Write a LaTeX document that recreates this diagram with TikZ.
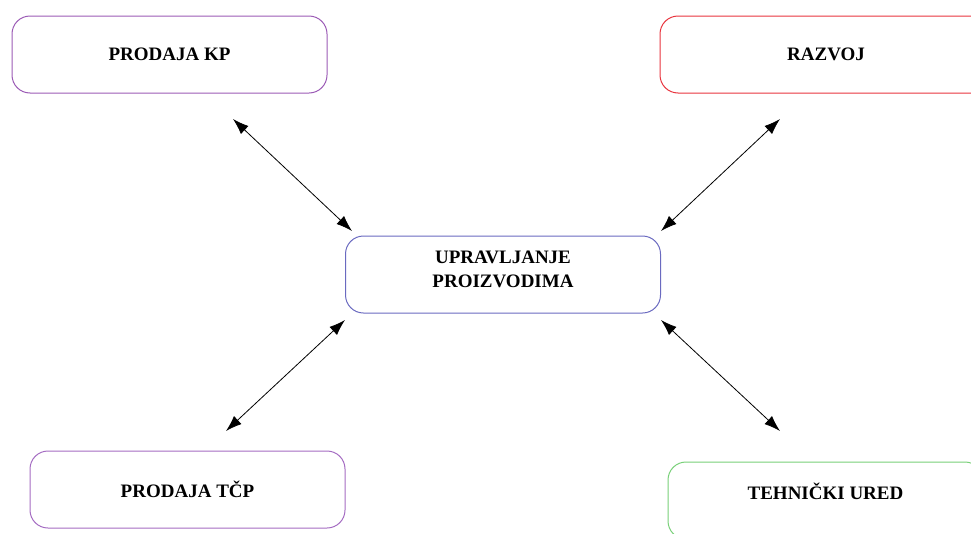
\documentclass[tikz,border=0pt]{standalone}
\usepackage{fontspec}
\setmainfont{Liberation Serif}
\usetikzlibrary{arrows.meta}
\definecolor{cKP}{HTML}{9B5BB5}
\definecolor{cRaz}{HTML}{E8343E}
\definecolor{cUp}{HTML}{6A6AC0}
\definecolor{cTcp}{HTML}{A46CC2}
\definecolor{cTeh}{HTML}{78D078}
\begin{document}
\begin{tikzpicture}[x=1pt,y=-1pt,
  box/.style={draw, rounded corners=18pt, minimum width=315pt, minimum height=77pt,
    font=\fontsize{19}{24}\selectfont\bfseries, align=center, line width=1pt, inner sep=0pt},
  link/.style={{Latex[length=16pt,width=11pt]}-{Latex[length=16pt,width=11pt]}, line width=0.8pt}]
\useasboundingbox (0,0) rectangle (971,533);
\clip (0,0) rectangle (971,533);
\node[box, draw=cKP] (kp) at (169.5,54.5) {PRODAJA KP};
\node[box, draw=cRaz, minimum width=332pt] (raz) at (826,54.5) {RAZVOJ};
\node[box, draw=cUp] (up) at (503,274.5) {\raisebox{-1pt}[0pt][0pt]{\begin{tabular}{@{}c@{}}UPRAVLJANJE\\PROIZVODIMA\end{tabular}}};
\node[box, draw=cTcp] (tcp) at (187.5,489.5) {PRODAJA TČP};
\node[box, draw=cTeh] (teh) at (825.5,500.5) {\raisebox{0pt}[0pt][2pt]{TEHNIČKI URED}};
\coordinate (a1) at (233,119); \coordinate (a2) at (352,231);
\coordinate (b1) at (661,231); \coordinate (b2) at (780,119);
\coordinate (c1) at (345,320); \coordinate (c2) at (226,431);
\coordinate (d1) at (661,320); \coordinate (d2) at (780,431);
\draw[link] (a1) -- (a2);
\draw[link] (b1) -- (b2);
\draw[link] (c1) -- (c2);
\draw[link] (d1) -- (d2);
\end{tikzpicture}
\end{document}
